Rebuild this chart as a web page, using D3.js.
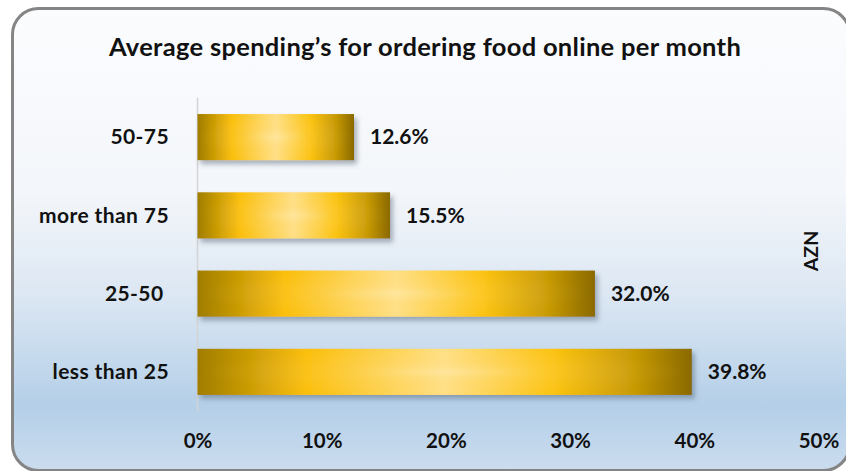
<!DOCTYPE html>
<html>
<head>
<meta charset="utf-8">
<script src="https://cdn.jsdelivr.net/npm/d3@7/dist/d3.min.js"></script>
<style>
  html, body { margin: 0; padding: 0; background: #ffffff; }
  svg { display: block; }
  text { font-family: Lato, "Open Sans", sans-serif; font-weight: bold; fill: #111; }
</style>
</head>
<body>
<svg id="chart" width="846" height="471"></svg>
<script>
// Spending brackets (AZN), top to bottom
const categories = ["50-75", "more than 75", "25-50 ", "less than 25"];
const shares = [12.6, 15.5, 32.0, 39.8];
const tickValues = [0, 10, 20, 30, 40, 50];

const svg = d3.select("#chart");
const defs = svg.append("defs");

// Panel background: white fading into pale blue
const bg = defs.append("linearGradient").attr("id", "panelBg")
  .attr("x1", 0).attr("y1", 0).attr("x2", 0).attr("y2", 1);
[[0, "#fbfcfe"], [0.4, "#f3f6fa"], [0.62, "#dce7f3"], [0.86, "#b4cfe8"], [1, "#cbdcee"]]
  .forEach(([o, c]) => bg.append("stop").attr("offset", o).attr("stop-color", c));

// Gold bar body
const gold = defs.append("linearGradient").attr("id", "goldBar")
  .attr("x1", 0).attr("y1", 0).attr("x2", 1).attr("y2", 0);
[[0, "#a07d00"], [0.22, "#fbbf0c"], [0.5, "#ffdf85"], [0.72, "#fcc312"], [0.88, "#c99b06"], [1, "#8a6900"]]
  .forEach(([o, c]) => gold.append("stop").attr("offset", o).attr("stop-color", c));

// Soft highlight in the middle of each bar
const glow = defs.append("radialGradient").attr("id", "goldGlow")
  .attr("cx", 0.5).attr("cy", 0.5).attr("r", 0.5)
  .attr("fx", 0.5).attr("fy", 0.5);
glow.append("stop").attr("offset", 0).attr("stop-color", "#fff0c0").attr("stop-opacity", 0.4);
glow.append("stop").attr("offset", 0.4).attr("stop-color", "#ffe6a0").attr("stop-opacity", 0.12);
glow.append("stop").attr("offset", 1).attr("stop-color", "#ffe6a0").attr("stop-opacity", 0);

const shadow = defs.append("filter").attr("id", "barShadow")
  .attr("x", "-5%").attr("y", "-20%").attr("width", "115%").attr("height", "160%");
shadow.append("feDropShadow").attr("dx", 3).attr("dy", 4).attr("stdDeviation", 2.5)
  .attr("flood-color", "#4a5a70").attr("flood-opacity", 0.45);

// Rounded panel frame
svg.append("rect")
  .attr("x", 12.5).attr("y", 8.5).attr("width", 837).attr("height", 462)
  .attr("rx", 26).attr("ry", 26)
  .attr("fill", "url(#panelBg)")
  .attr("stroke", "#858585").attr("stroke-width", 3);

// Plot area
const x = d3.scaleLinear().domain([0, 50]).range([197.5, 818.5]);
const y = d3.scaleBand().domain(categories).range([98, 411]).paddingInner(0.41).paddingOuter(0.205);

svg.append("text")
  .attr("x", 425).attr("y", 56)
  .attr("text-anchor", "middle")
  .style("font-size", "25.5px")
  .style("letter-spacing", "0.3px")
  .text("Average spending\u2019s for ordering food online per month");

// Category axis line
svg.append("line")
  .attr("x1", x(0)).attr("x2", x(0))
  .attr("y1", y.range()[0]).attr("y2", y.range()[1])
  .attr("stroke", "#d4d4d4").attr("stroke-width", 1.5);

// Category labels
svg.append("g").selectAll("text").data(categories).join("text")
  .attr("x", 169)
  .attr("y", d => y(d) + y.bandwidth() / 2)
  .attr("dy", "0.35em")
  .attr("text-anchor", "end")
  .style("font-size", "21px")
  .style("letter-spacing", "0.4px")
  .style("white-space", "pre")
  .text(d => d);

// Bars
const bars = svg.append("g").selectAll("g").data(shares).join("g");
bars.append("rect")
  .attr("x", x(0))
  .attr("y", (d, i) => y(categories[i]))
  .attr("width", d => x(d) - x(0))
  .attr("height", y.bandwidth())
  .attr("fill", "url(#goldBar)")
  .attr("filter", "url(#barShadow)");
bars.append("rect")
  .attr("x", x(0))
  .attr("y", (d, i) => y(categories[i]))
  .attr("width", d => x(d) - x(0))
  .attr("height", y.bandwidth())
  .attr("fill", "url(#goldGlow)");

// Value labels
bars.append("text")
  .attr("x", d => x(d) + 16)
  .attr("y", (d, i) => y(categories[i]) + y.bandwidth() / 2)
  .attr("dy", "0.35em")
  .style("font-size", "21px")
  .text(d => d.toFixed(1) + "%");

// Value axis tick labels
const axis = svg.append("g")
  .attr("transform", "translate(0,441)")
  .call(d3.axisBottom(x).tickValues(tickValues).tickFormat(d => d + "%").tickSize(0).tickPadding(0));
axis.select(".domain").remove();
axis.selectAll("text")
  .attr("y", 0)
  .attr("dy", "0.35em")
  .style("font-family", "Lato, 'Open Sans', sans-serif")
  .style("font-weight", "bold")
  .style("font-size", "20.5px")
  .attr("fill", "#111");

// Unit label
svg.append("text")
  .attr("transform", "translate(818,251) rotate(-90)")
  .attr("text-anchor", "middle")
  .style("font-size", "19.5px")
  .text("AZN");
</script>
</body>
</html>
